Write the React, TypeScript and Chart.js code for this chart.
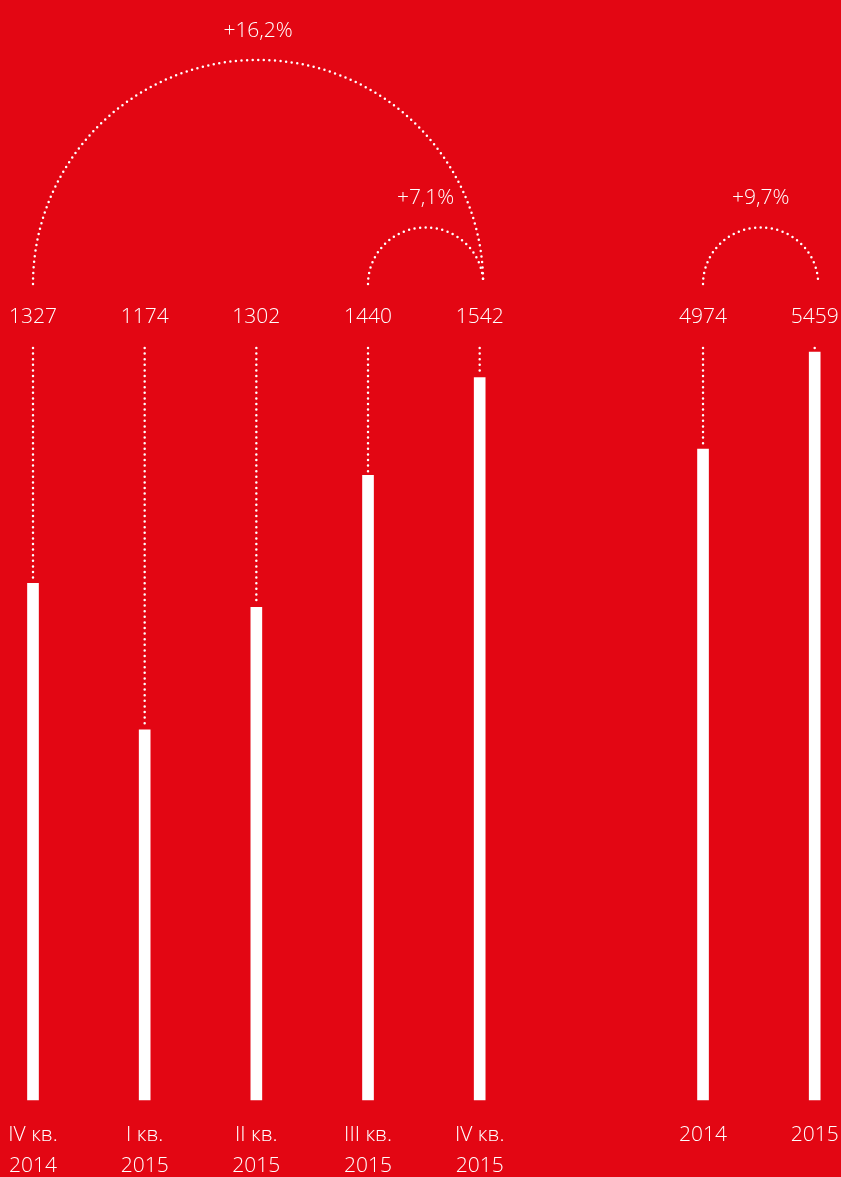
import React, { useEffect, useRef } from 'react';
import { Chart, registerables } from 'chart.js';

Chart.register(...registerables);

// ---- data ----
const categories: (string | string[])[] = [
  ['IV кв.', '2014'],
  ['I кв.', '2015'],
  ['II кв.', '2015'],
  ['III кв.', '2015'],
  ['IV кв.', '2015'],
  '',
  '2014',
  '2015',
];
const quarterlyValues = [1327, 1174, 1302, 1440, 1542, null, null, null];
const yearlyValues = [null, null, null, null, null, null, 4974, 5459];
const arcFrom = [0, 3, 6];
const arcTo = [4, 4, 7];
const arcLabels = ['+16,2%', '+7,1%', '+9,7%'];
// axis ranges (the bars start from a non-zero baseline in the original)
const quarterlyRange = [787, 1573];
const yearlyRange = [1719, 5479];

const FONT = "'Open Sans', 'DejaVu Sans', sans-serif";
const BG = '#E30613';

const overlayPlugin = {
  id: 'overlay',
  afterDatasetsDraw(chart: any) {
    const ctx = chart.ctx as CanvasRenderingContext2D;
    const x = chart.scales.x;
    const top = chart.chartArea.top;
    ctx.save();
    ctx.fillStyle = '#fff';
    ctx.strokeStyle = '#fff';
    ctx.font = `300 21px ${FONT}`;
    ctx.textAlign = 'center';
    ctx.textBaseline = 'middle';

    const series = [
      { data: quarterlyValues, axis: 'yQ' },
      { data: yearlyValues, axis: 'yY' },
    ];
    const valueAt = (i: number) => {
      for (const s of series) if (s.data[i] != null) return { v: s.data[i] as number, axis: s.axis };
      return null;
    };

    // value labels + dotted leaders
    categories.forEach((_, i) => {
      const it = valueAt(i);
      if (!it) return;
      const px = x.getPixelForValue(i);
      const barTop = chart.scales[it.axis].getPixelForValue(it.v);
      ctx.fillText(String(it.v), px, top - 31);
      ctx.beginPath();
      ctx.setLineDash([0, 5.6]);
      ctx.lineWidth = 2.5;
      ctx.lineCap = 'round';
      ctx.moveTo(px, top);
      ctx.lineTo(px, barTop - 2);
      ctx.stroke();
    });

    // comparison arcs
    const baseY = top - 64;
    arcFrom.forEach((from, k) => {
      const x1 = x.getPixelForValue(from);
      const x2 = x.getPixelForValue(arcTo[k]) + 3.5;
      const cx = (x1 + x2) / 2;
      const r = (x2 - x1) / 2;
      ctx.beginPath();
      ctx.setLineDash([0, 5.6]);
      ctx.lineWidth = 2.5;
      ctx.lineCap = 'round';
      ctx.ellipse(cx, baseY, r, r - 1, 0, Math.PI, 2 * Math.PI);
      ctx.stroke();
      ctx.setLineDash([]);
      ctx.fillText(arcLabels[k], cx, baseY - r - 28);
    });
    ctx.restore();
  },
};

export default function App() {
  const ref = useRef<HTMLCanvasElement | null>(null);
  useEffect(() => {
    if (!ref.current) return;
    const chart = new Chart(ref.current, {
      type: 'bar',
      data: {
        labels: categories as any,
        datasets: [
          {
            data: quarterlyValues as any,
            yAxisID: 'yQ',
            base: quarterlyRange[0],
            backgroundColor: '#fff',
            borderWidth: 0,
            barThickness: 11,
            grouped: false,
            clip: false,
          } as any,
          {
            data: yearlyValues as any,
            yAxisID: 'yY',
            base: yearlyRange[0],
            backgroundColor: '#fff',
            borderWidth: 0,
            barThickness: 11,
            grouped: false,
            clip: false,
          } as any,
        ],
      },
      options: {
        responsive: false,
        animation: false,
        devicePixelRatio: 1,
        layout: { padding: { left: 33, right: 26.3, top: 348, bottom: 0 } },
        plugins: { legend: { display: false }, tooltip: { enabled: false } },
        scales: {
          x: {
            offset: false,
            grid: { display: false, drawTicks: false },
            border: { display: false },
            ticks: {
              color: '#fff',
              font: { family: FONT, size: 21, weight: 300 as any, lineHeight: 1.45 },
              padding: 20,
              autoSkip: false,
              maxRotation: 0,
              minRotation: 0,
            },
            afterFit: (s: any) => {
              s.height = 77;
              s.paddingLeft = 0;
              s.paddingRight = 0;
            },
          },
          yQ: { type: 'linear', display: false, min: quarterlyRange[0], max: quarterlyRange[1] },
          yY: { type: 'linear', display: false, min: yearlyRange[0], max: yearlyRange[1] },
        },
      },
      plugins: [overlayPlugin],
    });
    return () => chart.destroy();
  }, []);

  return (
    <div style={{ position: 'absolute', left: 0, top: 0, width: 841, height: 1177, background: BG }}>
      <canvas ref={ref} width={841} height={1177} style={{ display: 'block' }} />
    </div>
  );
}
